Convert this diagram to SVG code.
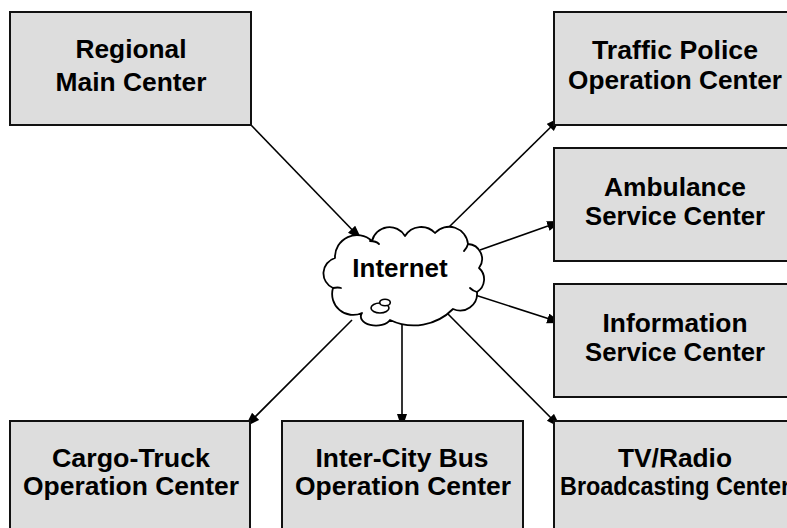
<svg xmlns="http://www.w3.org/2000/svg" width="787" height="528" viewBox="0 0 787 528">
<style>
.box{fill:#dddddd;stroke:#111;stroke-width:2}
.t{font-family:"Liberation Sans",Arial,sans-serif;font-weight:bold;font-size:26px;fill:#000;text-anchor:middle}
.c{fill:none;stroke:#000;stroke-width:1.6}
.cl{fill:#fff;stroke:#000;stroke-width:1.8;stroke-linejoin:round}
.cs{fill:none;stroke:#000;stroke-width:1.8;stroke-linecap:round}
</style>
<defs>
<marker id="ah" markerUnits="userSpaceOnUse" markerWidth="16" markerHeight="12" refX="15" refY="5" orient="auto">
<path d="M0,0 L15,5 L0,10 z" fill="#000"/>
</marker>
</defs>
<rect width="787" height="528" fill="#fff"/>

<g id="connectors">
<line class="c" x1="251" y1="125" x2="362" y2="240" marker-end="url(#ah)"/>
<line class="c" x1="447" y1="229" x2="561" y2="117" marker-end="url(#ah)"/>
<line class="c" x1="480" y1="250" x2="562" y2="221" marker-end="url(#ah)"/>
<line class="c" x1="472" y1="294" x2="562" y2="323" marker-end="url(#ah)"/>
<line class="c" x1="447" y1="313" x2="561" y2="428" marker-end="url(#ah)"/>
<line class="c" x1="402" y1="324" x2="402" y2="429" marker-end="url(#ah)"/>
<line class="c" x1="352" y1="320" x2="245" y2="427" marker-end="url(#ah)"/>
</g>

<g id="internet">
<path class="cl" d="M335,258 A22,22 0 0 1 372,241 A18,18 0 0 1 405,236 A19,19 0 0 1 435,233 A19,19 0 0 1 468,244 A15,15 0 0 1 479,268 A15,15 0 0 1 477,292 A17,17 0 0 1 453,309 A55,55 0 0 1 390,320 A14,8.5 0 0 1 362,313 A21,21 0 0 1 333,288 A16,16 0 0 1 335,258 Z"/>
<path class="cs" d="M370,241 q6,0 9,3"/>
<path class="cs" d="M333,288 q5,-1 8,0"/>
<path class="cs" d="M477,292 q-4,-1 -7,-4"/>
<path class="cs" d="M468,244 q-1,4 -4,7"/>
<ellipse cx="380" cy="308" rx="9" ry="5" fill="#fff" stroke="#000" stroke-width="1.6"/>
<ellipse cx="385" cy="302.5" rx="5.3" ry="3.3" fill="#fff" stroke="#000" stroke-width="1.6"/>
<text class="t" x="400" y="277">Internet</text>
</g>

<g id="regional">
<rect class="box" x="10" y="12" width="241" height="113"/>
<text class="t" x="131" y="58" textLength="111" lengthAdjust="spacingAndGlyphs">Regional</text>
<text class="t" x="131" y="91" textLength="151" lengthAdjust="spacingAndGlyphs">Main Center</text>
</g>

<g id="traffic">
<rect class="box" x="554" y="12" width="241" height="113"/>
<text class="t" x="675" y="59" textLength="166" lengthAdjust="spacingAndGlyphs">Traffic Police</text>
<text class="t" x="675" y="89" textLength="214" lengthAdjust="spacingAndGlyphs">Operation Center</text>
</g>

<g id="ambulance">
<rect class="box" x="554" y="148" width="241" height="113"/>
<text class="t" x="675" y="196" textLength="142" lengthAdjust="spacingAndGlyphs">Ambulance</text>
<text class="t" x="675" y="225" textLength="180" lengthAdjust="spacingAndGlyphs">Service Center</text>
</g>

<g id="information">
<rect class="box" x="554" y="284" width="241" height="113"/>
<text class="t" x="675" y="332" textLength="145" lengthAdjust="spacingAndGlyphs">Information</text>
<text class="t" x="675" y="361" textLength="180" lengthAdjust="spacingAndGlyphs">Service Center</text>
</g>

<g id="tvradio">
<rect class="box" x="554" y="421" width="241" height="120"/>
<text class="t" x="675" y="467" textLength="114" lengthAdjust="spacingAndGlyphs">TV/Radio</text>
<text class="t" x="675" y="495" textLength="230" lengthAdjust="spacingAndGlyphs">Broadcasting Center</text>
</g>

<g id="cargo">
<rect class="box" x="10" y="421" width="240" height="120"/>
<text class="t" x="131" y="467" textLength="158" lengthAdjust="spacingAndGlyphs">Cargo-Truck</text>
<text class="t" x="131" y="495" textLength="216" lengthAdjust="spacingAndGlyphs">Operation Center</text>
</g>

<g id="intercity">
<rect class="box" x="282" y="421" width="241" height="120"/>
<text class="t" x="402" y="467" textLength="173" lengthAdjust="spacingAndGlyphs">Inter-City Bus</text>
<text class="t" x="403" y="495" textLength="216" lengthAdjust="spacingAndGlyphs">Operation Center</text>
</g>
</svg>
